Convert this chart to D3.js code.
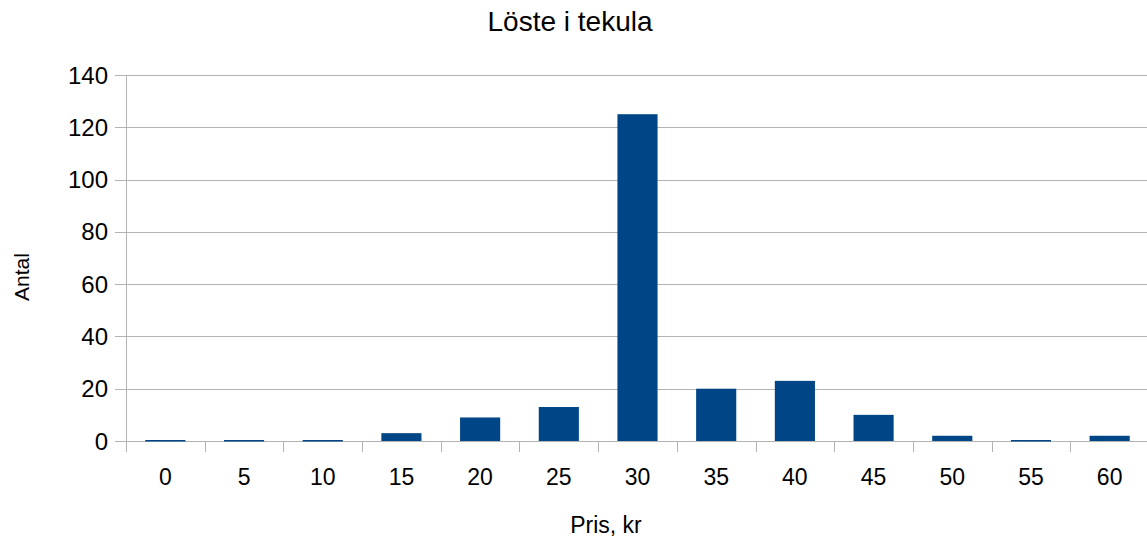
<!DOCTYPE html>
<html>
<head>
<meta charset="utf-8">
<script src="https://cdn.jsdelivr.net/npm/d3@7"></script>
<style>
  body { margin: 0; background: #fff; }
  text { font-family: "Liberation Sans", Arial, sans-serif; fill: #000; }
</style>
</head>
<body>
<script>
'use strict'

const categories = ['0', '5', '10', '15', '20', '25', '30', '35', '40', '45', '50', '55', '60']
const counts = [0, 0, 0, 3, 9, 13, 125, 20, 23, 10, 2, 0, 2]
const yTicks = [0, 20, 40, 60, 80, 100, 120, 140]

const width = 1147
const height = 540
const plotLeft = 126
const plotRight = 1149
const plotTop = 75
const plotBottom = 441

const svg = d3.select('body').append('svg')
  .attr('width', width)
  .attr('height', height)

const x = d3.scaleBand()
  .domain(categories)
  .range([plotLeft, plotRight])
  .paddingInner(0.49)
  .paddingOuter(0.245)

const y = d3.scaleLinear()
  .domain([0, 140])
  .range([plotBottom, plotTop])

// grid
svg.append('g')
  .selectAll('line')
  .data(yTicks)
  .enter()
  .append('line')
  .attr('x1', plotLeft - 11)
  .attr('x2', plotRight)
  .attr('y1', d => Math.round(y(d)) + 0.5)
  .attr('y2', d => Math.round(y(d)) + 0.5)
  .attr('stroke', '#b3b3b3')
  .attr('stroke-width', 1)

// y axis line
svg.append('line')
  .attr('x1', plotLeft + 0.5).attr('x2', plotLeft + 0.5)
  .attr('y1', plotTop).attr('y2', plotBottom + 11)
  .attr('stroke', '#b3b3b3')

// x ticks at category boundaries
const step = x.step()
svg.append('g')
  .selectAll('line')
  .data(d3.range(categories.length + 1))
  .enter()
  .append('line')
  .attr('x1', i => Math.round(plotLeft + i * step) + 0.5)
  .attr('x2', i => Math.round(plotLeft + i * step) + 0.5)
  .attr('y1', plotBottom)
  .attr('y2', plotBottom + 11)
  .attr('stroke', '#b3b3b3')

// bars
svg.append('g')
  .selectAll('rect')
  .data(counts)
  .enter()
  .append('rect')
  .attr('x', (d, i) => x(categories[i]))
  .attr('width', x.bandwidth())
  .attr('y', d => d === 0 ? y(0) - 1 : y(d))
  .attr('height', d => d === 0 ? 1.5 : y(0) - y(d))
  .attr('fill', '#004586')

// y tick labels
svg.append('g')
  .selectAll('text')
  .data(yTicks)
  .enter()
  .append('text')
  .attr('x', 108)
  .attr('y', d => y(d) + 8.5)
  .attr('text-anchor', 'end')
  .style('font-size', '24px')
  .text(d => d)

// x tick labels
svg.append('g')
  .selectAll('text')
  .data(categories)
  .enter()
  .append('text')
  .attr('x', d => x(d) + x.bandwidth() / 2)
  .attr('y', 485)
  .attr('text-anchor', 'middle')
  .style('font-size', '23px')
  .text(d => d)

svg.append('text')
  .attr('x', 570)
  .attr('y', 31)
  .attr('text-anchor', 'middle')
  .style('font-size', '28px')
  .text('Löste i tekula')

svg.append('text')
  .attr('x', 606)
  .attr('y', 533)
  .attr('text-anchor', 'middle')
  .style('font-size', '23px')
  .text('Pris, kr')

svg.append('text')
  .attr('transform', 'translate(28.5,277) rotate(-90)')
  .attr('text-anchor', 'middle')
  .style('font-size', '21px')
  .text('Antal')
</script>
</body>
</html>
